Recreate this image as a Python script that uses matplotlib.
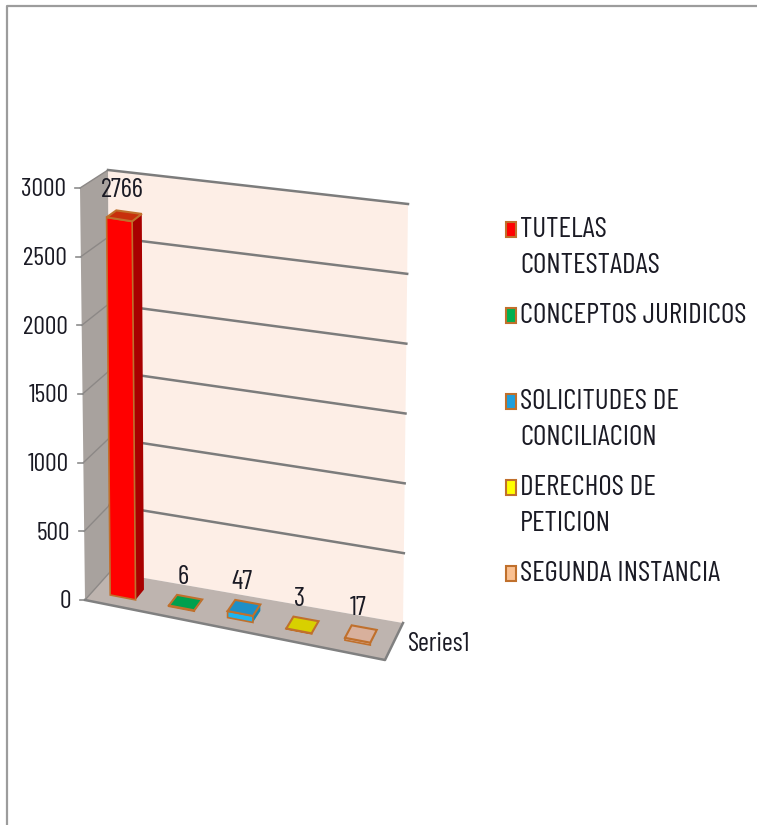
import matplotlib
matplotlib.use('Agg')
import matplotlib.pyplot as plt
from matplotlib import font_manager as fm
from matplotlib.patches import Polygon

# datos del grafico
categorias = ['TUTELAS CONTESTADAS', 'CONCEPTOS JURIDICOS', 'SOLICITUDES DE CONCILIACION',
              'DERECHOS DE PETICION', 'SEGUNDA INSTANCIA']
valores = [2766, 6, 47, 3, 17]
ticks = [0, 500, 1000, 1500, 2000, 2500, 3000]
serie = 'Series1'
leyenda_lineas = [['TUTELAS', 'CONTESTADAS'], ['CONCEPTOS JURIDICOS'], ['SOLICITUDES DE', 'CONCILIACION'],
                  ['DERECHOS DE', 'PETICION'], ['SEGUNDA INSTANCIA']]

# colores: frente, lado, arriba, leyenda
colores = [('#FF0000', '#A80000', '#C8300C', '#FF0000'),
           ('#00A04E', '#007A3C', '#00A04E', '#00B050'),
           ('#20B4EE', '#1786B0', '#1F8FC6', '#1F9FDC'),
           ('#D8D000', '#A8A000', '#D8D000', '#FFFF00'),
           ('#D8B09C', '#B89484', '#D8B09C', '#FAC090')]
borde = '#C0702C'
tinta = '#1A1A24'

# fuente angosta si esta, si no Liberation Sans mas chica
nombres = {f.name for f in fm.fontManager.ttflist}
if 'Barlow Condensed' in nombres:
    fuente, escala = 'Barlow Condensed', 1.0
else:
    fuente, escala = 'Liberation Sans', 0.72
plt.rcParams['font.family'] = [fuente, 'DejaVu Sans']

fig = plt.figure(figsize=(7.57, 8.25), dpi=100)
ax = fig.add_axes([0, 0, 1, 1])
ax.set_xlim(0, 757)
ax.set_ylim(825, 0)
ax.axis('off')

# esquinas de la caja 3D en pixeles (u: categoria, d: fondo, v: valor)
base_fl, base_fr = (85, 600), (385, 660)
base_bl, base_br = (110, 572), (403, 623)
alto_fl, alto_fr = (80, 188), (381, 240)
alto_bl, alto_br = (108, 170), (408, 204)
vmax = ticks[-1]


def mezcla(a, b, t):
    return (a[0] + (b[0] - a[0]) * t, a[1] + (b[1] - a[1]) * t)


def proy(u, d, valor):
    v = valor / vmax
    abajo = mezcla(mezcla(base_fl, base_fr, u), mezcla(base_bl, base_br, u), d)
    arriba = mezcla(mezcla(alto_fl, alto_fr, u), mezcla(alto_bl, alto_br, u), d)
    return mezcla(abajo, arriba, v)


def cara(puntos, color, ec='none', lw=0, z=1):
    ax.add_patch(Polygon(puntos, closed=True, facecolor=color, edgecolor=ec, linewidth=lw, zorder=z))


# marco de la imagen
ax.plot([7, 7, 757], [825, 6, 6], color='#9C9C9C', lw=1.6, zorder=0)

# paredes y piso
cara([proy(0, 1, 0), proy(1, 1, 0), proy(1, 1, vmax), proy(0, 1, vmax)], '#FDEEE6')
cara([proy(0, 0, 0), proy(0, 1, 0), proy(0, 1, vmax), proy(0, 0, vmax)], '#A8A29E')
cara([proy(0, 0, 0), proy(1, 0, 0), proy(1, 1, 0), proy(0, 1, 0)], '#BEB4AF')

# lineas de la grilla y etiquetas del eje
for t in ticks:
    p0, p1, p2 = proy(0, 0, t), proy(0, 1, t), proy(1, 1, t)
    ax.plot([p0[0], p1[0]], [p0[1], p1[1]], color='#8C8886', lw=1.0, zorder=2)
    if t > 0:
        ax.plot([p1[0], p2[0]], [p1[1], p2[1]], color='#7C7C7C', lw=1.8, zorder=2)
    ax.plot([p0[0] - 5, p0[0]], [p0[1], p0[1]], color='#8C8C8C', lw=1.2, zorder=2)
    ax.text(p0[0] - 14, p0[1] + 2, str(t), ha='right', va='center', fontsize=18.5 * escala, color=tinta, zorder=5)

# borde del piso
ax.plot(*zip(proy(0, 0, 0), proy(1, 0, 0), proy(1, 1, 0)), color='#808080', lw=1.8, zorder=2)
ax.text(proy(1, 0, 0)[0] + 23, 644, serie, ha='left', va='center', fontsize=19 * escala, color=tinta)

# barras
ancho = 0.085
d0, d1 = 0.3, 0.65
for i, val in enumerate(valores):
    c = 0.102 + i * 0.197
    u0, u1 = c - ancho / 2, c + ancho / 2
    frente, lado, arriba, _ = colores[i]
    cara([proy(u1, d0, 0), proy(u1, d1, 0), proy(u1, d1, val), proy(u1, d0, val)], lado, z=3)
    cara([proy(u0, d0, 0), proy(u1, d0, 0), proy(u1, d0, val), proy(u0, d0, val)], frente, borde, 1.2, z=3)
    cara([proy(u0, d0, val), proy(u1, d0, val), proy(u1, d1, val), proy(u0, d1, val)], arriba, borde, 1.5, z=4)
    tope = proy(c, 0.5, val)
    ax.text(tope[0] - 3, tope[1] - 25, str(val), ha='center', va='center', fontsize=19.5 * escala, color=tinta, zorder=6)

# leyenda
y = 228
for i, lineas in enumerate(leyenda_lineas):
    cara([(506, y - 6), (516, y - 6), (516, y + 9), (506, y + 9)], colores[i][3], borde, 1.5)
    for j, linea in enumerate(lineas):
        ax.text(520, y + 2 + j * 36, linea, ha='left', va='center', fontsize=21 * escala, color=tinta)
    y += 86

fig.savefig('out.png', dpi=100)
